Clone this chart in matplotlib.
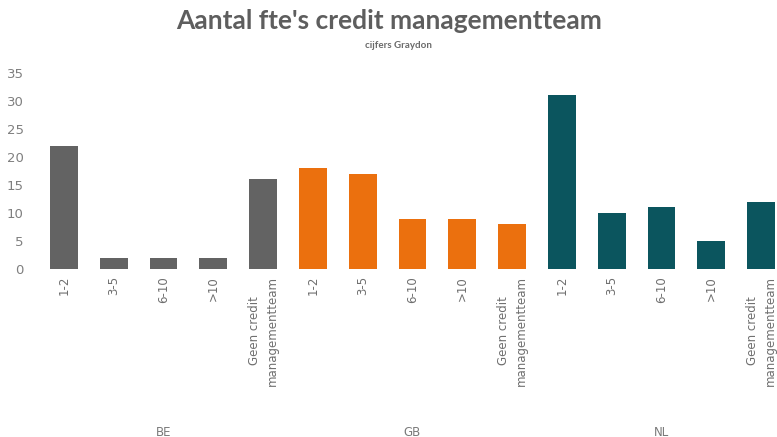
import matplotlib.pyplot as plt
from matplotlib.transforms import blended_transform_factory

# fte buckets per country, Graydon figures
countries = ['BE', 'GB', 'NL']
buckets = ['1-2', '3-5', '6-10', '>10', 'Geen credit\nmanagementteam']
be_vals = [22, 2, 2, 2, 16]
gb_vals = [18, 17, 9, 9, 8]
nl_vals = [31, 10, 11, 5, 12]
colors = ['#636363', '#eb700e', '#0b555e']

W, H = 777, 437
fig = plt.figure(figsize=(W / 100, H / 100), dpi=100)
# right edge of the plot runs slightly past the canvas
ax = fig.add_axes([39 / W, 1 - 269 / H, 747 / W, 196 / H])

labels = []
pos = 0
centers = []
for vals, col in zip([be_vals, gb_vals, nl_vals], colors):
    xs = list(range(pos, pos + len(vals)))
    ax.bar(xs, vals, width=0.56, color=col)
    centers.append(sum(xs) / len(xs))
    labels += buckets
    pos += len(vals)

ax.set_xlim(-0.5, pos - 0.5)
ax.set_ylim(0, 35)
ax.set_yticks(range(0, 36, 5))
ax.set_xticks(range(pos))
ax.set_xticklabels(labels, rotation=90, va='top', ha='center',
                   multialignment='center', linespacing=1.5)
ax.tick_params(axis='x', length=0, pad=5, labelsize=8.5, labelcolor='#6f6f6f')
ax.tick_params(axis='y', length=0, pad=11, labelsize=9.5, labelcolor='#7f7f7f')
for s in ax.spines.values():
    s.set_visible(False)

trans = blended_transform_factory(ax.transData, ax.transAxes)
for c, name in zip(centers, countries):
    ax.text(c, -163 / 196, name, transform=trans, ha='center', va='center',
            fontsize=8.5, color='#7a7a7a')

fig.text(389 / W, 1 - 21 / H, "Aantal fte's credit managementteam",
         ha='center', va='center', fontsize=19, fontweight='bold',
         color='#5e5e5e', family='Lato')
fig.text(398 / W, 1 - 46 / H, 'cijfers Graydon', ha='center', va='center',
         fontsize=7, fontweight='bold', color='#6a6a6a', family='Lato')

fig.savefig('out.png', dpi=100)
